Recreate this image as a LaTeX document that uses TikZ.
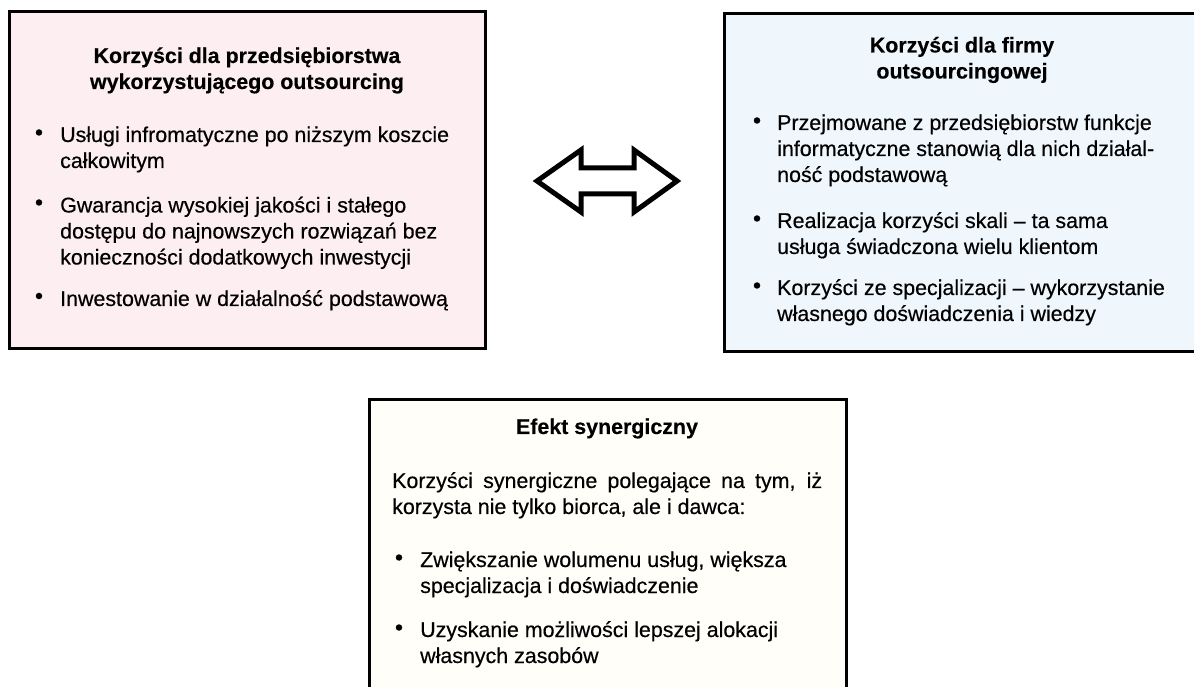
\documentclass[tikz,border=0pt]{standalone}
\usepackage{fontspec}
\setmainfont{Liberation Sans}[UprightFeatures={FakeBold=0.4},BoldFeatures={FakeBold=0.3}]
\newcommand\bodyfont{\fontsize{21.4}{26}\selectfont}
\newcommand\lns[1]{\begin{tabular}[t]{@{}l@{}}#1\end{tabular}}
\newcommand\clns[1]{\begin{tabular}[t]{@{}c@{}}#1\end{tabular}}
\definecolor{pinkbg}{RGB}{252,238,241}
\definecolor{bluebg}{RGB}{239,246,252}
\definecolor{creambg}{RGB}{255,254,249}
\tikzset{
  box/.style={draw=black, line width=3pt, inner sep=0pt, anchor=north west},
  txt/.style={inner sep=0pt, anchor=base west, font=\bodyfont},
  ttl/.style={inner sep=0pt, anchor=base, font=\bodyfont\bfseries},
  bul/.style={circle, fill=black, inner sep=0pt, minimum size=6.5pt},
  arrowshape/.style={draw=black, line width=5pt, line join=miter}
}
\begin{document}
\begin{tikzpicture}[x=1pt,y=1pt]
\useasboundingbox (0,0) rectangle (1194,686);

% boxes
\node[box, fill=pinkbg, minimum width=476pt, minimum height=337pt] (L) at (8,676) {};
\node[box, fill=bluebg, minimum width=490pt, minimum height=338pt] (R) at (723,674) {};
\node[box, fill=creambg, minimum width=477pt, minimum height=310pt] (B) at (368,288) {};

% left box
\node[ttl] (Lt) at (247,623) {\clns{Korzyści dla przedsiębiorstwa\\wykorzystującego outsourcing}};
\node[bul] (Lb1) at (39,553.5) {};
\node[txt] (L1) at (60,544) {\lns{Usługi infromatyczne po niższym koszcie\\całkowitym}};
\node[bul] (Lb2) at (39,483.5) {};
\node[txt] (L2) at (60,473.5) {\lns{Gwarancja wysokiej jakości i stałego\\dostępu do najnowszych rozwiązań bez\\konieczności dodatkowych inwestycji}};
\node[bul] (Lb3) at (39,390) {};
\node[txt] (L3) at (60,380) {Inwestowanie w działalność podstawową};

% right box
\node[ttl] (Rt) at (962,633.5) {\clns{Korzyści dla firmy\\outsourcingowej}};
\node[bul] (Rb1) at (757,565.5) {};
\node[txt] (R1) at (777,556) {\lns{Przejmowane z przedsiębiorstw funkcje\\informatyczne stanowią dla nich działal-\\ność podstawową}};
\node[bul] (Rb2) at (757,467.5) {};
\node[txt] (R2) at (777,458) {\lns{Realizacja korzyści skali -- ta sama\\usługa świadczona wielu klientom}};
\node[bul] (Rb3) at (757,400.5) {};
\node[txt] (R3) at (777,391) {\lns{Korzyści ze specjalizacji -- wykorzystanie\\własnego doświadczenia i wiedzy}};

% bottom box
\node[ttl] (Bt) at (607,252) {Efekt synergiczny};
\node[txt] (Bp) at (392,198) {\parbox[t]{430pt}{\bodyfont Korzyści synergiczne polegające na tym, iż\linebreak korzysta nie tylko biorca, ale i dawca:}};
\node[bul] (Bb1) at (399,128.5) {};
\node[txt] (B1) at (420,119) {\lns{Zwiększanie wolumenu usług, większa\\specjalizacja i doświadczenie}};
\node[bul] (Bb2) at (399,58.5) {};
\node[txt] (B2) at (420,49) {\lns{Uzyskanie możliwości lepszej alokacji\\własnych zasobów}};

% double arrow
\draw[arrowshape] (537,505) -- (581,536) -- (581,518) -- (634,518) -- (634,536)
  -- (677,505) -- (634,474) -- (634,492) -- (581,492) -- (581,474) -- cycle;
\end{tikzpicture}
\end{document}
